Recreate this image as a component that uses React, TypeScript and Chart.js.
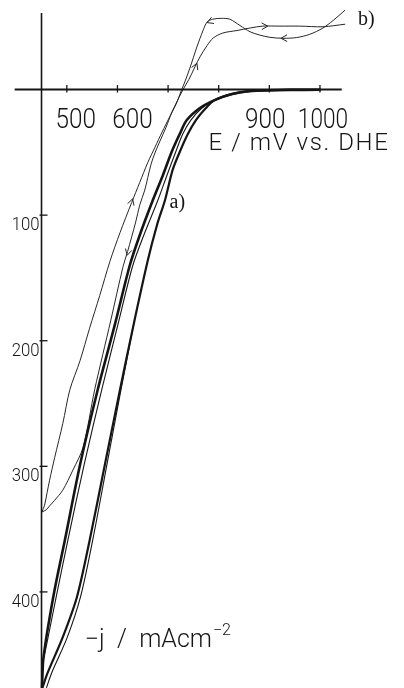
import React, { useEffect, useRef } from 'react';
import { Chart, registerables } from 'chart.js';

Chart.register(...registerables);

// ---- data (E in mV vs. DHE, j = -current density in mA cm^-2, positive downward) ----
// curve b), forward scan (arrows pointing up / right)
const bForwardE = [451, 456, 461, 466, 476, 492, 506, 526, 545, 565, 585, 605, 628, 644, 660, 674, 688, 704, 717, 729, 741, 753, 763, 777, 789, 808, 836, 862, 887, 921, 960, 1006, 1049];
const bForwardJ = [336, 331, 321, 311, 293, 266, 239, 216, 190, 164, 137, 114, 90, 74, 58, 46, 34, 21, 10, 0.4, -8, -18, -26, -35, -41, -45, -47, -49, -50.5, -50.5, -50.5, -50, -52];
// curve b), reverse scan (arrows pointing left / down)
const bReverseE = [1049, 1026, 1006, 980, 954, 927, 901, 881, 862, 842, 822, 806, 788, 777, 769, 757, 743, 733, 725, 717, 707, 696, 684, 674, 666, 654, 644, 636, 620, 611, 587, 571, 555, 532, 512, 492, 476, 466, 459, 451];
const bReverseJ = [-63, -55, -49, -44, -41.4, -40.8, -41.6, -43.4, -46, -51, -56, -56.7, -56, -53.7, -47, -34, -17, -6, 2, 10.7, 18.7, 30, 41, 50.5, 60, 80, 92, 105.5, 129, 141, 183.5, 211, 239, 285, 303, 319, 327, 331.5, 334.7, 336.3];
// curve a), thick scan
const aScan1E = [1000, 941, 901, 862, 826, 792, 763, 737, 723, 707, 690, 670, 644, 624, 595, 561, 526, 496, 476, 462, 456, 453, 451];
const aScan1J = [0.2, 0.3, 0.6, 1.2, 3.6, 8.4, 14.7, 24.3, 35.4, 49.7, 68, 88, 116, 140.5, 187, 239, 299, 359, 398, 430, 446, 456, 476];
// curve a), thin companion of scan 1
const aScan2E = [826, 792, 767, 745, 729, 715, 698, 680, 652, 630, 601, 569, 534, 502, 482, 466, 458, 452];
const aScan2J = [3.6, 8.4, 14.7, 24.3, 35.4, 49.7, 68, 88, 116, 140.5, 187, 239, 299, 359, 398, 430, 446, 456.5];
// curve a), outer thick scan
const aScan3E = [1000, 941, 901, 862, 826, 792, 773, 755, 739, 723, 709, 694, 678, 660, 632, 605, 575, 545, 520, 492, 462, 452];
const aScan3J = [0.2, 0.3, 0.6, 1.2, 3.6, 8.4, 15.5, 24.3, 35.4, 49.7, 64, 88, 108, 136, 187, 239, 299, 359, 404, 436, 464.5, 476];
// curve a), thin companion of outer scan
const aScan4E = [632, 607, 579, 551, 527, 501, 470, 460];
const aScan4J = [187, 239, 299, 359, 404, 436, 464.5, 476];

// arrows on curve b): tip and a point behind it (gives direction)
const arrowTipE = [757, 897, 630, 619, 777, 923];
const arrowTipJ = [-21, -50.5, 87, 132, -53.3, -40.8];
const arrowTailE = [749, 877, 624.5, 624.5, 792, 943];
const arrowTailJ = [-13, -50.3, 94, 124, -55.7, -41];

// axes
const xTickValues = [500, 600, 700, 800, 900, 1000];
const xTickLabels = ['500', '600', '', '', '900', '1000'];
const yTickValues = [100, 200, 300, 400];
const yTickLabels = ['100', '200', '300', '400'];

const X_MIN = 368;
const X_MAX = 1166;
const Y_MIN = -71.3;
const Y_MAX = 476.5;

const pts = (es: number[], js: number[]) => es.map((e, i) => ({ x: e, y: js[i] }));

const INK = '#151515';
const THIN_INK = '#262626';

const sketchPlugin = {
  id: 'sketchAxes',
  afterDatasetsDraw(chart: any) {
    const { ctx, scales } = chart;
    const x = scales.x;
    const y = scales.y;
    ctx.save();
    ctx.strokeStyle = INK;
    ctx.fillStyle = INK;
    ctx.lineCap = 'butt';

    // x axis (j = 0)
    const y0 = y.getPixelForValue(0);
    ctx.lineWidth = 2;
    ctx.beginPath();
    ctx.moveTo(x.getPixelForValue(397), y0);
    ctx.lineTo(x.getPixelForValue(1043), y0);
    ctx.stroke();

    // y axis (E = 450)
    const x0 = x.getPixelForValue(450);
    ctx.lineWidth = 1.6;
    ctx.beginPath();
    ctx.moveTo(x0, y.getPixelForValue(-61));
    ctx.lineTo(x0, y.getPixelForValue(Y_MAX));
    ctx.stroke();

    // x ticks
    ctx.lineWidth = 1.3;
    xTickValues.forEach((v) => {
      const px = x.getPixelForValue(v);
      ctx.beginPath();
      ctx.moveTo(px, y0 - 4.5);
      ctx.lineTo(px, y0 + 3);
      ctx.stroke();
    });
    // y ticks
    yTickValues.forEach((v) => {
      const py = y.getPixelForValue(v);
      ctx.beginPath();
      ctx.moveTo(x0 - 2, py);
      ctx.lineTo(x0 + 6, py);
      ctx.stroke();
    });

    // x tick labels
    const xLabelShift = [9, 15, 0, 0, -4, 3];
    ctx.font = '300 27px Roboto, "DejaVu Sans", sans-serif';
    ctx.textAlign = 'center';
    ctx.textBaseline = 'alphabetic';
    xTickLabels.forEach((lab, i) => {
      if (!lab) return;
      const px = x.getPixelForValue(xTickValues[i]) + xLabelShift[i];
      ctx.save();
      ctx.translate(px, y0 + 38.5);
      ctx.scale(lab.length > 3 ? 0.84 : 0.9, 1);
      ctx.fillText(lab, 0, 0);
      ctx.restore();
    });

    // y tick labels
    ctx.font = '300 18px Roboto, "DejaVu Sans", sans-serif';
    ctx.textAlign = 'right';
    yTickLabels.forEach((lab, i) => {
      const py = y.getPixelForValue(yTickValues[i]);
      ctx.save();
      ctx.translate(x0 - 2, py + 15);
      ctx.scale(0.93, 1);
      ctx.fillText(lab, 0, 0);
      ctx.restore();
    });

    // axis titles
    ctx.font = '300 24px Roboto, "DejaVu Sans", sans-serif';
    ctx.textAlign = 'right';
    (ctx as any).letterSpacing = '1.6px';
    ctx.fillText('E / mV vs. DHE', x.getPixelForValue(1134) + 1.6, y.getPixelForValue(48.2));
    (ctx as any).letterSpacing = '0px';

    ctx.textAlign = 'left';
    ctx.font = '300 25px Roboto, "DejaVu Sans", sans-serif';
    const jx = x.getPixelForValue(535.6);
    const jy = y.getPixelForValue(443.8);
    const main = '−j  /  mAcm';
    ctx.fillText(main, jx, jy);
    const w = ctx.measureText(main).width;
    ctx.font = '300 16px Roboto, "DejaVu Sans", sans-serif';
    ctx.fillText('−2', jx + w + 1, jy - 12);

    // curve labels
    ctx.font = '20px "Liberation Serif", "DejaVu Serif", serif';
    ctx.fillText('a)', x.getPixelForValue(703), y.getPixelForValue(94.3));
    ctx.fillText('b)', x.getPixelForValue(1075), y.getPixelForValue(-51.7));

    // arrowheads
    ctx.lineWidth = 1;
    ctx.strokeStyle = THIN_INK;
    arrowTipE.forEach((e, i) => {
      const tx = x.getPixelForValue(e);
      const ty = y.getPixelForValue(arrowTipJ[i]);
      const bx = x.getPixelForValue(arrowTailE[i]);
      const by = y.getPixelForValue(arrowTailJ[i]);
      const ang = Math.atan2(ty - by, tx - bx);
      const len = 7;
      const spread = 0.5;
      ctx.beginPath();
      ctx.moveTo(tx - len * Math.cos(ang - spread), ty - len * Math.sin(ang - spread));
      ctx.lineTo(tx, ty);
      ctx.lineTo(tx - len * Math.cos(ang + spread), ty - len * Math.sin(ang + spread));
      ctx.stroke();
    });

    ctx.restore();
  },
};

export default function App() {
  const ref = useRef<HTMLCanvasElement | null>(null);

  useEffect(() => {
    if (!ref.current) return;
    const line = (label: string, es: number[], js: number[], width: number, color: string) => ({
      label,
      data: pts(es, js),
      borderColor: color,
      borderWidth: width,
      tension: 0.3,
      pointRadius: 0,
      fill: false,
      borderCapStyle: 'round' as const,
      borderJoinStyle: 'round' as const,
    });
    const chart = new Chart(ref.current, {
      type: 'line',
      data: {
        datasets: [
          line('a) scan 1', aScan1E, aScan1J, 2.6, INK),
          line('a) scan 2', aScan2E, aScan2J, 1.1, INK),
          line('a) scan 3', aScan3E, aScan3J, 2.2, INK),
          line('a) scan 4', aScan4E, aScan4J, 1.1, INK),
          line('b) forward', bForwardE, bForwardJ, 1, THIN_INK),
          line('b) reverse', bReverseE, bReverseJ, 1, THIN_INK),
        ],
      },
      options: {
        animation: false,
        responsive: false,
        maintainAspectRatio: false,
        devicePixelRatio: 1,
        events: [],
        layout: { padding: 0 },
        plugins: { legend: { display: false }, tooltip: { enabled: false }, title: { display: false } },
        scales: {
          x: { type: 'linear', display: false, min: X_MIN, max: X_MAX },
          y: { type: 'linear', display: false, reverse: true, min: Y_MIN, max: Y_MAX },
        },
      },
      plugins: [sketchPlugin],
    });
    return () => chart.destroy();
  }, []);

  return (
    <div style={{ position: 'fixed', left: 0, top: 0, width: 404, height: 688, background: '#fff' }}>
      <canvas ref={ref} width={404} height={688} style={{ width: 404, height: 688, display: 'block' }} />
    </div>
  );
}
